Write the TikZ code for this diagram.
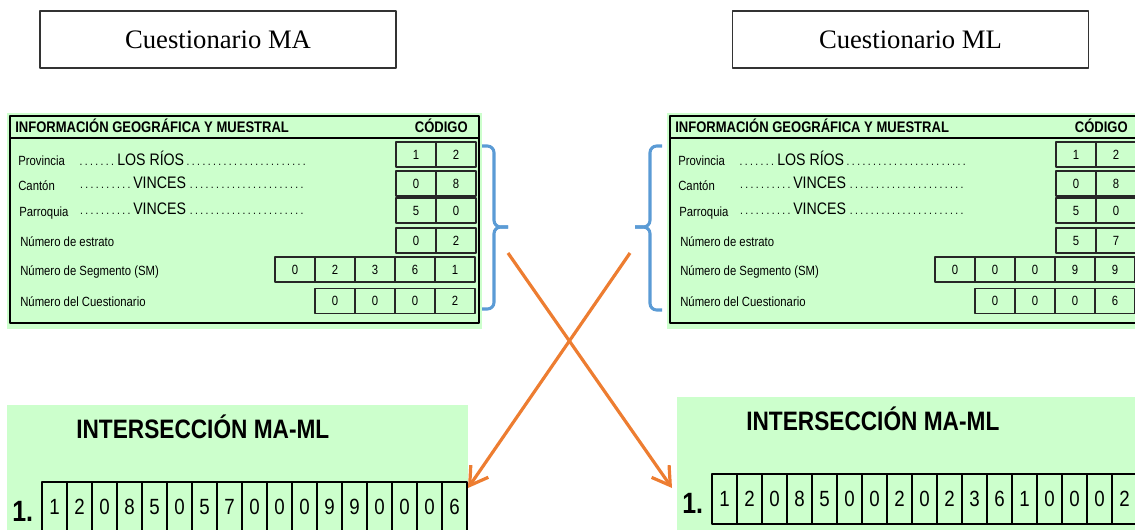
\documentclass[tikz,border=0pt]{standalone}
\usepackage{fontspec}
\setmainfont{Liberation Serif}
\newfontfamily\arialN[FakeStretch=0.85]{Liberation Sans}
\usetikzlibrary{arrows.meta}

\definecolor{verdeFicha}{HTML}{CCFFCC}
\definecolor{azulLlave}{HTML}{5B9BD5}
\definecolor{naranja}{HTML}{ED7D31}

% dotted run of fixed width
\newcommand{\puntos}[1]{\hbox to #1{\fontsize{9}{9}\selectfont\dotfill}}

\tikzset{
  titulo/.style={draw=black!80, line width=0.9pt, minimum width=267pt,
    minimum height=42.75pt, inner sep=0pt, font=\fontsize{20}{24}\selectfont},
  cabecera/.style={anchor=base west, inner sep=0pt,
    font=\arialN\bfseries\fontsize{11.5}{13}\selectfont},
  etiqueta/.style={anchor=base west, inner sep=0pt,
    font=\arialN\fontsize{10}{11}\selectfont},
  lugar/.style={anchor=base west, inner sep=0pt,
    font=\arialN\fontsize{12.5}{14}\selectfont},
  celda/.style={draw=black!85, line width=0.9pt, minimum width=30pt,
    minimum height=18.75pt, inner sep=0pt, font=\arialN\fontsize{10}{12}\selectfont},
  casilla/.style={draw, line width=1.1pt, minimum width=18.75pt,
    minimum height=37.5pt, inner sep=0pt, font=\arialN\fontsize{16.5}{18}\selectfont},
  interseccion/.style={anchor=base west, inner sep=0pt,
    font=\arialN\bfseries\fontsize{20}{22}\selectfont},
  llave/.style={draw=azulLlave, line width=2.3pt, rounded corners=5pt},
  flecha/.style={draw=naranja, line width=2.4pt,
    -{Straight Barb[length=13pt, width=16pt]}},
}

\begin{document}
\begin{tikzpicture}[x=0.75pt, y=-0.75pt, line join=round]
    \useasboundingbox (0,0) rectangle (1135,529);
    \clip (0,0) rectangle (1135,529);

    % Titles
    \node[titulo] (cuesMA) at (218,39.5) {Cuestionario MA};
    \node[titulo] (cuesML) at (910.5,39.5) {Cuestionario ML};

    % Geographic panels
    \foreach \dx/\pre/\estrato/\seg/\cues in
        {0/ma/{0,2}/{0,2,3,6,1}/{0,0,0,2}, 660/ml/{5,7}/{0,0,0,9,9}/{0,0,0,6}} {
      \begin{scope}[shift={(\dx,0)}]
        \fill[verdeFicha] (7,113) rectangle (482,329);
        \draw[line width=1.5pt] (10,116) rectangle (479,323);
        \draw[line width=1.1pt] (10,138) -- (479,138);
        \node[cabecera] (\pre-cab) at (15,132) {INFORMACIÓN GEOGRÁFICA Y MUESTRAL};
        \node[cabecera, anchor=base east] (\pre-cod) at (468,132) {CÓDIGO};

        \node[etiqueta] (\pre-prov) at (18,165.7) {Provincia};
        \node[lugar] (\pre-provval) at (76,165.7) {\puntos{30.75pt}LOS RÍOS\puntos{93pt}};
        \node[etiqueta] (\pre-cant) at (18,190) {Cantón};
        \node[lugar] (\pre-cantval) at (77,188) {\puntos{42pt}VINCES\puntos{91pt}};
        \node[etiqueta] (\pre-parr) at (19,216.5) {Parroquia};
        \node[lugar] (\pre-parrval) at (77,214) {\puntos{42pt}VINCES\puntos{91pt}};
        \node[etiqueta] (\pre-estr) at (20,246.5) {Número de estrato};
        \node[etiqueta] (\pre-segm) at (20,275.5) {Número de Segmento (SM)};
        \node[etiqueta] (\pre-num) at (20,306.5) {Número del Cuestionario};

        \foreach \d [count=\i] in {1,2}
          \node[celda] (\pre-r1-\i) at (376+40*\i,154.5) {\d};
        \foreach \d [count=\i] in {0,8}
          \node[celda] (\pre-r2-\i) at (376+40*\i,183.5) {\d};
        \foreach \d [count=\i] in {5,0}
          \node[celda] (\pre-r3-\i) at (376+40*\i,210.5) {\d};
        \foreach \d [count=\i] in \estrato
          \node[celda] (\pre-r4-\i) at (376+40*\i,240.5) {\d};
        \foreach \d [count=\i] in \seg
          \node[celda] (\pre-r5-\i) at (255+40*\i,269.5) {\d};
        \foreach \d [count=\i] in \cues
          \node[celda] (\pre-r6-\i) at (295+40*\i,301) {\d};
      \end{scope}
    }

    % Braces
    \draw[llave] (482,146) -| (494,227) -- (508,227);
    \draw[llave] (508,227) -- (494,227) |- (482,309);
    \draw[llave] (662,146) -| (650,227) -- (635,227);
    \draw[llave] (635,227) -- (650,227) |- (662,310);

    % Intersection panels
    \foreach \dx/\dy/\pre/\cod in
        {0/0/ma/{1,2,0,8,5,0,5,7,0,0,0,9,9,0,0,0,6},
         670/-8/ml/{1,2,0,8,5,0,0,2,0,2,3,6,1,0,0,0,2}} {
      \begin{scope}[shift={(\dx,\dy)}]
        \fill[verdeFicha] (7,405) rectangle (468,540);
        \node[interseccion] (\pre-inter) at (76,438) {INTERSECCIÓN MA-ML};
        \node[interseccion, font=\arialN\bfseries\fontsize{22}{24}\selectfont]
          (\pre-uno) at (12,521) {1.};
        \foreach \d [count=\i] in \cod
          \node[casilla] (\pre-d\i) at (29.5+25*\i,507) {\d};
      \end{scope}
    }

    % Crossing arrows
    \coordinate (inicioMA) at (508,253);
    \coordinate (finML) at (672,488);
    \coordinate (inicioML) at (630,253);
    \coordinate (finMA) at (468,488);
    \draw[flecha] (inicioMA) -- (finML);
    \draw[flecha] (inicioML) -- (finMA);
\end{tikzpicture}
\end{document}
